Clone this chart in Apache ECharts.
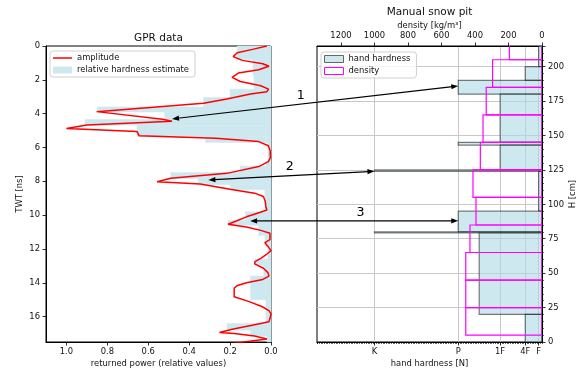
<!DOCTYPE html>
<html>
<head>
<meta charset="utf-8">
<script src="https://cdn.jsdelivr.net/npm/echarts@6/dist/echarts.min.js"></script>
<style>
  html, body { margin: 0; padding: 0; background: #fff; }
  #chart { width: 582px; height: 376px; }
</style>
</head>
<body>
<div id="chart"></div>
<script>
// GPR trace, left panel
const ampTwt = [0.0, 0.2, 0.4, 0.63, 0.85, 1.05, 1.2, 1.4, 1.6, 1.85, 2.1, 2.35, 2.55, 2.7, 2.84, 3.13, 3.39, 3.88,
  4.33, 4.45, 4.67, 4.88, 5.06, 5.3, 5.46, 5.65, 5.9, 6.2, 6.6, 6.84, 7.13, 7.53, 7.82, 8.02, 8.16, 8.47, 8.7, 8.9,
  9.2, 9.5, 9.7, 9.9, 10.1, 10.35, 10.54, 10.7, 10.9, 11.07, 11.45, 11.62, 11.85, 12.1, 12.3, 12.55, 12.75, 12.88,
  13.14, 13.4, 13.6, 13.8, 14.0, 14.17, 14.32, 14.82, 15.1, 15.4, 15.65, 15.84, 16.1, 16.3, 16.49, 16.75, 16.94,
  17.0, 17.15, 17.32, 17.6];
const ampPower = [0.02, 0.09, 0.165, 0.185, 0.14, 0.04, 0.01, 0.06, 0.16, 0.19, 0.15, 0.05, 0.012, 0.02, 0.1, 0.216, 0.33, 0.852,
  0.53, 0.484, 0.9, 1.0, 0.655, 0.645, 0.27, 0.06, 0.013, 0.004, 0.003, 0.013, 0.06, 0.216, 0.49, 0.557, 0.346, 0.2, 0.08, 0.037,
  0.028, 0.025, 0.02, 0.07, 0.12, 0.17, 0.21, 0.12, 0.05, 0.005, 0.005, 0.03, 0.015, 0.0, 0.02, 0.05, 0.078, 0.08,
  0.037, 0.015, 0.01, 0.04, 0.12, 0.167, 0.18, 0.18, 0.11, 0.045, 0.01, 0.0, 0.005, 0.01, 0.086, 0.19, 0.252,
  0.18, 0.08, 0.02, 0.2];

// relative hardness estimate (steps in TWT)
const estTop = [0, 0.8, 1.75, 2.55, 3.05, 3.6, 3.9, 4.35, 4.68, 5.35, 5.7, 6.8, 7.1, 7.48, 7.85, 8.2, 8.5, 9.8, 10.3,
  10.6, 11.2, 11.8, 12.6, 12.95, 13.6, 15.0, 16.4, 16.8, 17.15];
const estBottom = [0.8, 1.75, 2.55, 3.05, 3.6, 3.9, 4.35, 4.68, 5.35, 5.7, 6.8, 7.1, 7.48, 7.85, 8.2, 8.5, 9.8, 10.3, 10.6,
  11.2, 11.8, 12.6, 12.95, 13.6, 15.0, 16.4, 16.8, 17.15, 17.5];
const estPower = [0.165, 0.088, 0.083, 0.2, 0.33, 0.85, 0.52, 0.91, 0.655, 0.32, 0.015, 0.025, 0.15, 0.49, 0.355, 0.2, 0.03,
  0.125, 0.21, 0.06, 0.03, 0.015, 0.08, 0.035, 0.1, 0.025, 0.215, 0.1, 0.02];

// manual snow pit, right panel
const handTop = [215, 200, 190, 180, 145, 143, 125, 124, 95, 80, 79.3, 20];
const handBottom = [200, 190, 180, 145, 143, 125, 124, 95, 80, 79.3, 20, 0];
const handForce = [20, 100, 500, 250, 500, 250, 1000, 20, 500, 1000, 375, 100];

const densTop = [230, 205, 185, 165, 145, 125, 105, 85, 65, 45, 25];
const densBottom = [205, 185, 165, 145, 125, 105, 85, 65, 45, 25, 5];
const densValue = [195, 295, 333, 352, 368, 412, 394, 430, 455, 455, 455];

const hardnessTickValues = [1000, 500, 250, 100, 20];
const hardnessTickLabels = ['K', 'P', '1F', '4F', 'F'];

// arrows linking pit layers to GPR reflections
const arrowLabels = ['1', '2', '3'];
const arrowPower = [0.484, 0.306, 0.102];
const arrowTwt = [4.31, 7.92, 10.34];
const arrowPitValue = [500, 1000, 500];
const arrowPitHeight = [186, 124, 88];
const arrowLabelAt = [0.45, 0.49, 0.53];

const font = 'DejaVu Sans';
const ink = '#111';
const tickFont = 8.4;
const estFill = 'rgb(206,232,240)';
const handFill = 'rgba(173,216,230,0.6)';
const handEdge = 'rgba(0,0,0,0.5)';
const gridGray = '#c8c8c8';

const chart = echarts.init(document.getElementById('chart'), null, { renderer: 'canvas' });

function layerRect(style) {
  return function (params, api) {
    const a = api.coord([0, api.value(0)]);
    const b = api.coord([api.value(2), api.value(1)]);
    return {
      type: 'rect',
      shape: {
        x: Math.min(a[0], b[0]), y: Math.min(a[1], b[1]),
        width: Math.abs(a[0] - b[0]), height: Math.abs(a[1] - b[1])
      },
      style: style
    };
  };
}

const axisLineStyle = { show: true, onZero: false, lineStyle: { color: '#000', width: 1 } };
const tickStyle = { show: true, length: 3.5, lineStyle: { color: '#000', width: 0.8 } };
const labelStyle = { fontSize: tickFont, color: ink, fontFamily: font };
const nameStyle = { fontSize: tickFont, color: ink, fontFamily: font };

const legendBox = {
  orient: 'vertical',
  selectedMode: false,
  backgroundColor: 'rgba(255,255,255,0.8)',
  borderColor: '#d0d0d0',
  borderWidth: 1,
  borderRadius: 3,
  padding: [3, 6, 3, 3],
  itemGap: 4,
  itemWidth: 19,
  itemHeight: 7,
  textStyle: { fontSize: tickFont, color: ink, fontFamily: font }
};

const option = {
  animation: false,
  backgroundColor: '#fff',
  textStyle: { fontFamily: font },
  grid: [
    { left: 46, top: 46, width: 225, height: 296, show: true, borderColor: '#000', borderWidth: 1, backgroundColor: 'transparent', outerBoundsMode: 'none' },
    { left: 317, top: 46, width: 225, height: 296, show: true, borderColor: '#000', borderWidth: 1, backgroundColor: 'transparent', outerBoundsMode: 'none' }
  ],
  xAxis: [
    {
      gridIndex: 0, type: 'value', position: 'bottom', inverse: true, min: 0, max: 1.1, interval: 0.2,
      name: 'returned power (relative values)', nameLocation: 'middle', nameGap: 18, nameMoveOverlap: false, nameTextStyle: nameStyle,
      axisLine: axisLineStyle, axisTick: tickStyle,
      axisLabel: Object.assign({ margin: 6, showMaxLabel: false, formatter: v => v.toFixed(1) }, labelStyle),
      splitLine: { show: false }
    },
    {
      gridIndex: 1, type: 'value', position: 'top', inverse: true, min: 0, max: 1343, interval: 200,
      name: 'density [kg/m³]', nameLocation: 'middle', nameGap: 16, nameMoveOverlap: false, nameTextStyle: nameStyle,
      axisLine: axisLineStyle, axisTick: tickStyle,
      axisLabel: Object.assign({ margin: 6, showMaxLabel: false, formatter: v => String(v) }, labelStyle),
      splitLine: { show: false }
    },
    {
      gridIndex: 1, type: 'value', position: 'bottom', inverse: true, min: 0, max: 1343, interval: 10,
      axisLine: axisLineStyle,
      axisTick: { show: true, length: 2, lineStyle: { color: '#000', width: 0.6 } },
      axisLabel: { show: false },
      splitLine: { show: false }
    },
    {
      gridIndex: 1, type: 'value', position: 'bottom', inverse: true, min: 0, max: 1343,
      name: 'hand hardness [N]', nameLocation: 'middle', nameGap: 18, nameMoveOverlap: false, nameTextStyle: nameStyle,
      axisLine: { show: false, onZero: false },
      axisTick: Object.assign({ customValues: hardnessTickValues }, tickStyle),
      axisLabel: Object.assign({
        margin: 6,
        customValues: hardnessTickValues,
        formatter: v => hardnessTickLabels[hardnessTickValues.indexOf(v)] || ''
      }, labelStyle),
      splitLine: { show: true, lineStyle: { color: gridGray, width: 1 } }
    }
  ],
  yAxis: [
    {
      gridIndex: 0, type: 'value', position: 'left', inverse: true, min: 0, max: 17.5, interval: 2,
      name: 'TWT [ns]', nameLocation: 'middle', nameGap: 22, nameRotate: 90, nameMoveOverlap: false, nameTextStyle: nameStyle,
      axisLine: axisLineStyle, axisTick: tickStyle,
      axisLabel: Object.assign({ margin: 6, showMaxLabel: false }, labelStyle),
      splitLine: { show: false }
    },
    {
      gridIndex: 1, type: 'value', position: 'right', min: 0, max: 215, interval: 25,
      name: 'H [cm]', nameLocation: 'middle', nameGap: 27, nameRotate: 90, nameMoveOverlap: false, nameTextStyle: nameStyle,
      axisLine: axisLineStyle, axisTick: tickStyle,
      minorTick: { show: true, splitNumber: 5, length: 2, lineStyle: { color: '#000', width: 0.6 } },
      axisLabel: Object.assign({ margin: 6, showMaxLabel: false }, labelStyle),
      splitLine: { show: true, lineStyle: { color: gridGray, width: 1 } }
    }
  ],
  legend: [
    Object.assign({
      left: 50, top: 51,
      data: [
        { name: 'amplitude', icon: 'path://M0,0 L19,0 L19,1.5 L0,1.5 Z', itemStyle: { color: '#ff0000', borderWidth: 0 } },
        { name: 'relative hardness estimate', icon: 'rect', itemStyle: { color: estFill, borderWidth: 0 } }
      ]
    }, legendBox),
    Object.assign({
      left: 321, top: 52,
      data: [
        { name: 'hand hardness', icon: 'rect', itemStyle: { color: 'rgb(206,232,240)', borderColor: '#666', borderWidth: 1 } },
        { name: 'density', icon: 'rect', itemStyle: { color: '#fff', borderColor: '#ff00ff', borderWidth: 1 } }
      ]
    }, legendBox)
  ],
  series: [
    {
      name: 'relative hardness estimate', type: 'custom', xAxisIndex: 0, yAxisIndex: 0,
      encode: { x: 2, y: [0, 1] },
      itemStyle: { color: estFill },
      renderItem: layerRect({ fill: estFill, stroke: estFill, lineWidth: 0.5 }),
      data: estTop.map((t, i) => [t, estBottom[i], estPower[i]]),
      z: 1
    },
    {
      name: 'amplitude', type: 'line', xAxisIndex: 0, yAxisIndex: 0,
      symbol: 'none', showSymbol: false, clip: true,
      color: '#ff0000',
      lineStyle: { color: '#ff0000', width: 1.5 },
      data: ampPower.map((p, i) => [p, ampTwt[i]]),
      z: 3
    },
    {
      name: 'hand hardness', type: 'custom', xAxisIndex: 3, yAxisIndex: 1, clip: true,
      encode: { x: 2, y: [0, 1] },
      itemStyle: { color: handFill },
      renderItem: layerRect({ fill: handFill, stroke: handEdge, lineWidth: 1.2 }),
      data: handTop.map((t, i) => [t, handBottom[i], handForce[i]]),
      z: 2
    },
    {
      name: 'density', type: 'custom', xAxisIndex: 1, yAxisIndex: 1, clip: true,
      encode: { x: 2, y: [0, 1] },
      itemStyle: { color: '#ff00ff' },
      renderItem: layerRect({ fill: 'none', stroke: '#ff00ff', lineWidth: 1.2 }),
      data: densTop.map((t, i) => [t, densBottom[i], densValue[i]]),
      z: 3
    }
  ]
};

chart.setOption(option);

// titles and arrows, placed after the axes exist
const graphics = [
  { type: 'text', x: 158.5, y: 38, z: 100, style: { text: 'GPR data', font: '10.5px "DejaVu Sans"', fill: ink, align: 'center', verticalAlign: 'middle' } },
  { type: 'text', x: 429.5, y: 12, z: 100, style: { text: 'Manual snow pit', font: '10.5px "DejaVu Sans"', fill: ink, align: 'center', verticalAlign: 'middle' } }
];

const headLen = 7, headHalf = 2.6;
arrowLabels.forEach((lab, i) => {
  const a = chart.convertToPixel({ xAxisIndex: 0, yAxisIndex: 0 }, [arrowPower[i], arrowTwt[i]]);
  const b = chart.convertToPixel({ xAxisIndex: 1, yAxisIndex: 1 }, [arrowPitValue[i], arrowPitHeight[i]]);
  const dx = b[0] - a[0], dy = b[1] - a[1];
  const len = Math.sqrt(dx * dx + dy * dy);
  const ux = dx / len, uy = dy / len;
  const nx = -uy, ny = ux;
  const head = (tip, sx, sy) => {
    const bx = tip[0] + sx * headLen, by = tip[1] + sy * headLen;
    return [[tip[0], tip[1]], [bx + nx * headHalf, by + ny * headHalf], [bx - nx * headHalf, by - ny * headHalf]];
  };
  graphics.push({
    type: 'line', z: 100,
    shape: { x1: a[0] + ux * headLen * 0.8, y1: a[1] + uy * headLen * 0.8, x2: b[0] - ux * headLen * 0.8, y2: b[1] - uy * headLen * 0.8 },
    style: { stroke: '#000', lineWidth: 1.2 }
  });
  graphics.push({ type: 'polygon', z: 100, shape: { points: head(a, ux, uy) }, style: { fill: '#000' } });
  graphics.push({ type: 'polygon', z: 100, shape: { points: head(b, -ux, -uy) }, style: { fill: '#000' } });
  const t = arrowLabelAt[i];
  graphics.push({
    type: 'text', z: 100,
    x: a[0] + dx * t, y: a[1] + dy * t - 8.5,
    style: { text: lab, font: '12.6px "DejaVu Sans"', fill: '#000', align: 'center', verticalAlign: 'middle' }
  });
});

chart.setOption({ graphic: graphics });
</script>
</body>
</html>
